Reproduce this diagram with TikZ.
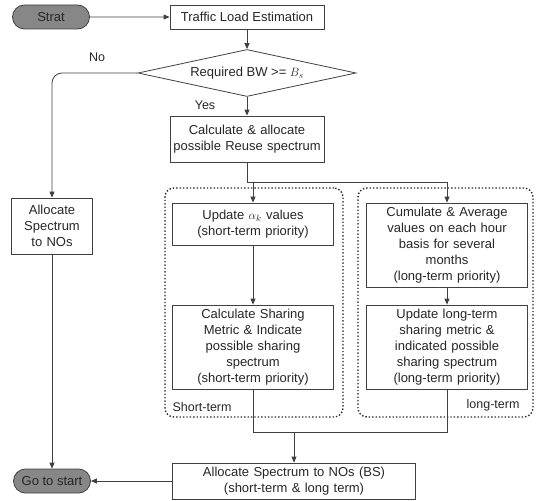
\documentclass[tikz,border=0pt]{standalone}
\usepackage{fontspec}
\setmainfont{Liberation Sans}
\usetikzlibrary{shapes.geometric,shapes.misc,arrows.meta,positioning,calc}

\begin{document}
\begin{tikzpicture}[
  x=1pt, y=-1pt,
  every node/.style={font=\fontsize{13}{16}\selectfont, align=center, text=black!85},
  box/.style={draw=black!75, line width=0.8pt, inner sep=1pt},
  term/.style={draw=black!75, fill=black!47, rounded rectangle, line width=0.8pt, minimum width=79pt, minimum height=24pt, inner sep=1pt},
  dec/.style={draw=black!75, diamond, aspect=4.6, minimum width=218pt, minimum height=47pt, inner sep=0pt, line width=0.8pt},
  grp/.style={draw=black!85, dotted, line width=1.4pt, rounded corners=9pt, inner sep=0pt},
  line/.style={draw=black!75, line width=0.8pt},
  arr/.style={line, -{Triangle[length=6pt,width=5pt]}},
  lbl/.style={font=\fontsize{12.5}{14}\selectfont}
]
\useasboundingbox (0,0) rectangle (537,500);

% groups
\node[grp, minimum width=178pt, minimum height=229pt] (shortgrp) at (254,302.5) {};
\node[grp, minimum width=175pt, minimum height=229pt] (longgrp) at (445.5,302.5) {};
\node[lbl, anchor=west] (shortlbl) at (169,407) {Short-term};
\node[lbl, anchor=east] (longlbl) at (523,405) {long-term};

% main flow
\node[term] (strat) at (51,17) {Strat};
\node[box, minimum width=154pt, minimum height=24pt] (traffic) at (247,17) {Traffic Load Estimation};
\node[dec] (bwcheck) at (247,73) {Required BW >= $B_s$};
\node[box, text width=152pt, minimum height=46pt] (calc) at (247,139) {Calculate \& allocate\\possible Reuse spectrum};
\node[box, text width=79pt, minimum height=56pt] (alloc) at (52,226) {Allocate\\Spectrum\\to NOs};
\node[term] (gotostart) at (52,481) {Go to start};

% short-term / long-term
\node[box, text width=159pt, minimum height=42pt] (upd) at (253,224) {Update $\alpha_k$ values\\(short-term priority)};
\node[box, text width=159pt, minimum height=84pt] (cum) at (447,245) {Cumulate \& Average\\values on each hour\\basis for several\\months\\(long-term priority)};
\node[box, text width=159pt, minimum height=84pt] (share) at (253,347) {Calculate Sharing\\Metric \& Indicate\\possible sharing\\spectrum\\(short-term priority)};
\node[box, text width=159pt, minimum height=84pt] (ltm) at (447,347) {Update long-term\\sharing metric \&\\indicated possible\\sharing spectrum\\(long-term priority)};
\node[box, text width=241pt, minimum height=36pt] (final) at (294,481) {Allocate Spectrum to NOs (BS)\\(short-term \& long term)};

\node[lbl] (nolbl) at (97,57) {No};
\node[lbl] (yeslbl) at (205,105) {Yes};

\coordinate (split) at (253,182);
\coordinate (join) at (294,432);

% connectors
\draw[arr] (strat) -- (traffic);
\draw[arr] (traffic) -- (bwcheck);
\draw[arr] (bwcheck) -- (calc);
\draw[arr, rounded corners=10pt] (bwcheck.west) -| (alloc.north);
\draw[arr] (alloc) -- (gotostart);
\draw[line] (calc.south) -- (calc.south |- split) -- (cum.north |- split);
\draw[arr] (split) -- (upd.north);
\draw[arr] (cum.north |- split) -- (cum.north);
\draw[arr] (upd) -- (share);
\draw[arr] (cum) -- (ltm);
\draw[line] (share.south) -- (share.south |- join) -- (ltm.south |- join) -- (ltm.south);
\draw[arr] (join) -- (final.north);
\draw[arr] (final.west) -- (gotostart.east);
\end{tikzpicture}
\end{document}
